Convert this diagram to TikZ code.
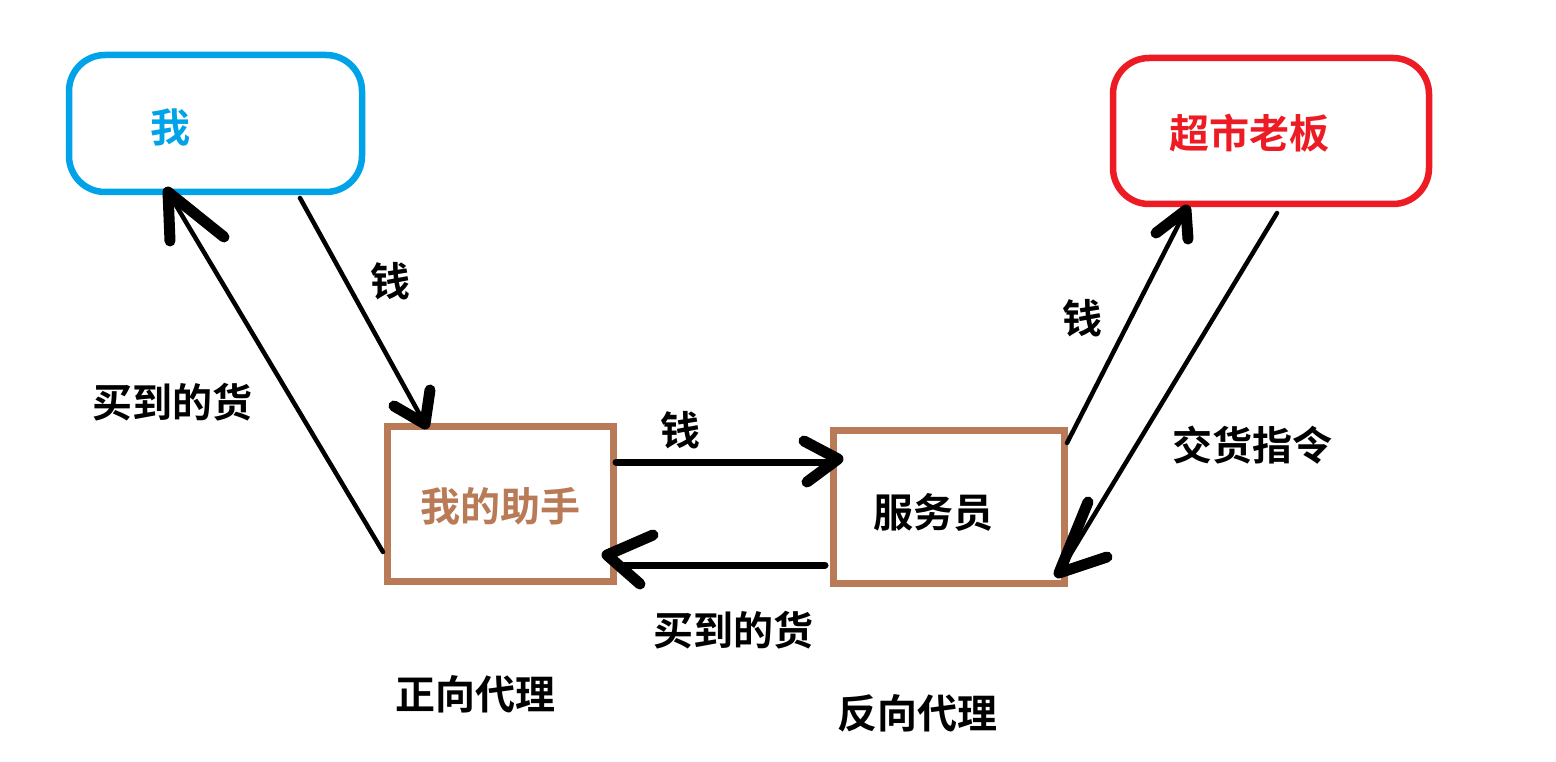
\documentclass[tikz,border=0pt]{standalone}
\usepackage{fontspec}
\newfontfamily\cjk{Noto Sans CJK SC Bold}
\definecolor{meblue}{HTML}{00A2E8}
\definecolor{bossred}{HTML}{ED1C24}
\definecolor{helpbrown}{HTML}{B97A57}
\begin{document}
\begin{tikzpicture}[x=1pt,y=-1pt,
  boxshape/.style={draw,inner sep=0pt,line width=6.5pt},
  txt/.style={font=\cjk\fontsize{40}{40}\selectfont,inner sep=0pt,anchor=center},
  shaft/.style={line width=4.5pt,line cap=round},
  thickshaft/.style={line width=7pt,line cap=round},
  barb/.style={line width=11pt,line cap=round,line join=round}]
\useasboundingbox[fill=white] (0,0) rectangle (1556,762);
% boxes
\node[boxshape,color=meblue,rounded corners=36pt,minimum width=293pt,minimum height=137pt] (me) at (215.5,123.5) {};
\node[boxshape,color=bossred,rounded corners=36pt,minimum width=316pt,minimum height=146pt] (boss) at (1271,131) {};
\node[boxshape,color=helpbrown,line width=7pt,minimum width=226pt,minimum height=155pt] (helper) at (500.5,504) {};
\node[boxshape,color=helpbrown,line width=7pt,minimum width=231pt,minimum height=153pt] (server) at (949,507) {};
% box texts
\node[txt,text=meblue] (metxt) at (170,128) {我};
\node[txt,text=bossred] (bosstxt) at (1249,133) {超市老板};
\node[txt,text=helpbrown] (helptxt) at (500,506) {我的助手};
\node[txt] (servtxt) at (933,512) {服务员};
% labels
\node[txt] (l1) at (390,281) {钱};
\node[txt] (l2) at (172,402) {买到的货};
\node[txt] (l3) at (680,430) {钱};
\node[txt] (l4) at (733,630) {买到的货};
\node[txt] (l5) at (1082,318) {钱};
\node[txt] (l6) at (1252,445) {交货指令};
\node[txt] (l7) at (475,694) {正向代理};
\node[txt] (l8) at (917,713) {反向代理};
% connector endpoints
\coordinate (a1s) at (300,198);  \coordinate (a1t) at (425,424);
\coordinate (a1b1) at (394,406); \coordinate (a1b2) at (430,390);
\coordinate (a2s) at (383,552);  \coordinate (a2t) at (168,192);
\coordinate (a2b1) at (170,241); \coordinate (a2b2) at (224,237);
\coordinate (a3s) at (616,462);  \coordinate (a3e) at (832,462); \coordinate (a3t) at (838,459);
\coordinate (a3b1) at (804,441); \coordinate (a3b2) at (807,482);
\coordinate (a4s) at (825,565);  \coordinate (a4e) at (620,565); \coordinate (a4t) at (607,555);
\coordinate (a4b1) at (653,535); \coordinate (a4b2) at (640,584);
\coordinate (a5s) at (1067,443); \coordinate (a5t) at (1186,210);
\coordinate (a5b1) at (1156,233); \coordinate (a5b2) at (1188,239);
\coordinate (a6s) at (1277,213); \coordinate (a6t) at (1059,573);
\coordinate (a6b1) at (1088,502); \coordinate (a6b2) at (1107,557);
% connectors
\draw[shaft] (a1s) -- (a1t);
\draw[barb] (a1b1) -- (a1t) -- (a1b2);
\draw[shaft] (a2s) -- (a2t);
\draw[barb] (a2b1) -- (a2t) -- (a2b2);
\draw[thickshaft] (a3s) -- (a3e);
\draw[barb] (a3b1) -- (a3t) -- (a3b2);
\draw[thickshaft] (a4s) -- (a4e);
\draw[barb] (a4b1) -- (a4t) -- (a4b2);
\draw[shaft] (a5s) -- (a5t);
\draw[barb] (a5b1) -- (a5t) -- (a5b2);
\draw[shaft] (a6s) -- (a6t);
\draw[barb] (a6b1) -- (a6t) -- (a6b2);
\end{tikzpicture}
\end{document}
